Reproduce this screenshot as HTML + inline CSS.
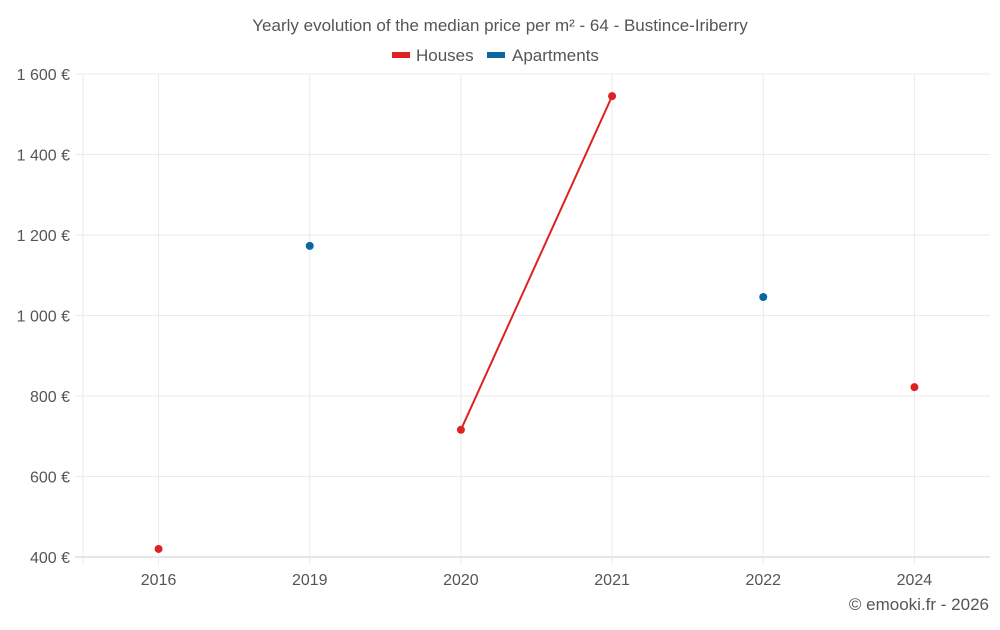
<!DOCTYPE html>
<html><head><meta charset="utf-8"><style>
body{margin:0;background:#fff;font-family:"Liberation Sans",sans-serif;}
svg text{font-family:"Liberation Sans",sans-serif;fill:#555;}
</style></head><body>
<svg id="chart" width="1000" height="625">
<text x="500" y="31" text-anchor="middle" font-size="17">Yearly evolution of the median price per m² - 64 - Bustince-Iriberry</text>
<g>
<g><rect x="392" y="52" width="18" height="6" fill="#dd2222"/><text x="416" y="61" font-size="17">Houses</text></g>
<g><rect x="487" y="52" width="18" height="6" fill="#0a67a0"/><text x="512" y="61" font-size="17">Apartments</text></g>
</g>
<g id="grid"></g><g id="axes"></g><g id="marks"></g>
<text x="989" y="610" text-anchor="end" font-size="17">© emooki.fr - 2026</text>
</svg>
<script>
const categories=["2016","2019","2020","2021","2022","2024"];
const houses=[420,null,716,1545,null,822];
const apartments=[null,1173,null,null,1046,null];
const yTicks=[400,600,800,1000,1200,1400,1600];
const yTickLabels=["400 €","600 €","800 €","1 000 €","1 200 €","1 400 €","1 600 €"];
const NS="http://www.w3.org/2000/svg";
const L=83,R=990,T=74,B=557,yMin=400,yMax=1600;
const bw=(R-L)/categories.length;
const x=i=>L+bw*(i+0.5);
const y=v=>B-(v-yMin)/(yMax-yMin)*(B-T);
function mk(tag,attrs,parent){const e=document.createElementNS(NS,tag);for(const k in attrs)e.setAttribute(k,attrs[k]);document.getElementById(parent).appendChild(e);return e;}
yTicks.forEach((t,i)=>{
 const g=mk('line',{x1:L-8,x2:R,y1:y(t),y2:y(t),stroke:i==0?'#ccc':'#ebebeb','stroke-width':1},'grid');
 
 
 const tx=mk('text',{x:70,y:y(t)+6,'text-anchor':'end','font-size':16},'axes');tx.textContent=yTickLabels[i];
 
 
});
const lg=mk('line',{x1:L,x2:L,y1:T,y2:B+8,stroke:'#ebebeb'},'grid');


categories.forEach((c,i)=>{
 const g=mk('line',{x1:x(i),x2:x(i),y1:T,y2:B+8,stroke:'#ebebeb'},'grid');
 
 
 const tx=mk('text',{x:x(i),y:585,'text-anchor':'middle','font-size':16},'axes');tx.textContent=c;
 
 
});
function series(vals,color,name){
 for(let i=0;i<vals.length-1;i++){
  if(vals[i]!=null&&vals[i+1]!=null){
   const l=mk('line',{x1:x(i),y1:y(vals[i]),x2:x(i+1),y2:y(vals[i+1]),stroke:color,'stroke-width':2},'marks');
   
   
  }
 }
 vals.forEach((v,i)=>{if(v==null)return;
  const p=mk('circle',{cx:x(i),cy:y(v),r:4,fill:color},'marks');
  
  
 });
}
series(houses,'#dd2222','houses');
series(apartments,'#0a67a0','apartments');
</script>
</body></html>
